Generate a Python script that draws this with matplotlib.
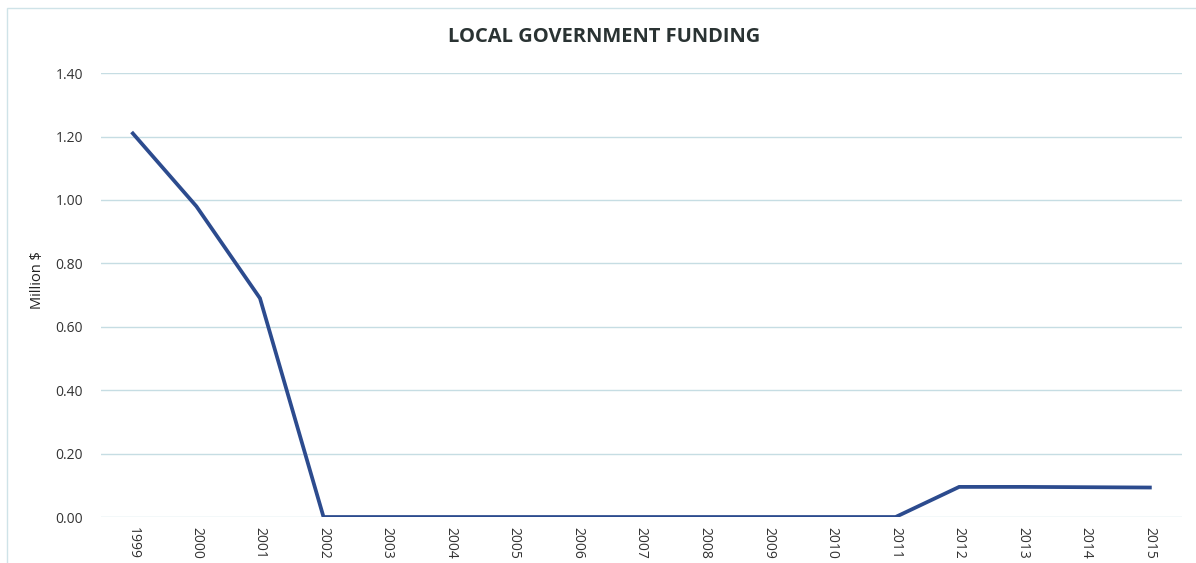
import matplotlib.pyplot as plt
from matplotlib.patches import Rectangle

years = [str(y) for y in range(1999, 2016)]
funding = [1.21, 0.98, 0.69, 0.0, 0.0, 0.0, 0.0, 0.0, 0.0, 0.0, 0.0, 0.0, 0.0,
           0.095, 0.095, 0.094, 0.093]
yticks = [0.0, 0.2, 0.4, 0.6, 0.8, 1.0, 1.2, 1.4]

plt.rcParams["font.family"] = ["Open Sans", "DejaVu Sans"]

fig = plt.figure(figsize=(11.96, 5.63), dpi=100)
ax = fig.add_axes([0.0845, 0.0817, 0.9035, 0.7883])

ax.plot(range(len(years)), funding, color="#2c4b8e", linewidth=2.7,
        solid_joinstyle="miter", zorder=3)

ax.set_xlim(-0.5, len(years) - 0.5)
ax.set_ylim(0, 1.4)
ax.set_yticks(yticks)
ax.set_yticklabels(["%.2f" % v for v in yticks], fontsize=10, color="#333333")
ax.set_xticks(range(len(years)))
ax.set_xticklabels(years, rotation=270, fontsize=10, color="#333333")
ax.tick_params(length=0, pad=7)
ax.tick_params(axis="y", pad=13)
ax.grid(axis="y", color="#c6dde3", linewidth=1.0)
ax.set_axisbelow(True)
for s in ax.spines.values():
    s.set_visible(False)

ax.set_ylabel("Million $", fontsize=10.5, color="#222222")
ax.yaxis.set_label_coords(-0.052, 0.535)
fig.text(0.505, 0.935, "LOCAL GOVERNMENT FUNDING", ha="center", va="center",
         fontsize=14.5, fontweight="bold", color="#2a3333")

fig.patches.append(Rectangle((0.006, -0.01), 1.0, 0.995, transform=fig.transFigure,
                             fill=False, edgecolor="#cfe3e8", linewidth=1.0))

fig.savefig("out.png", dpi=100)
